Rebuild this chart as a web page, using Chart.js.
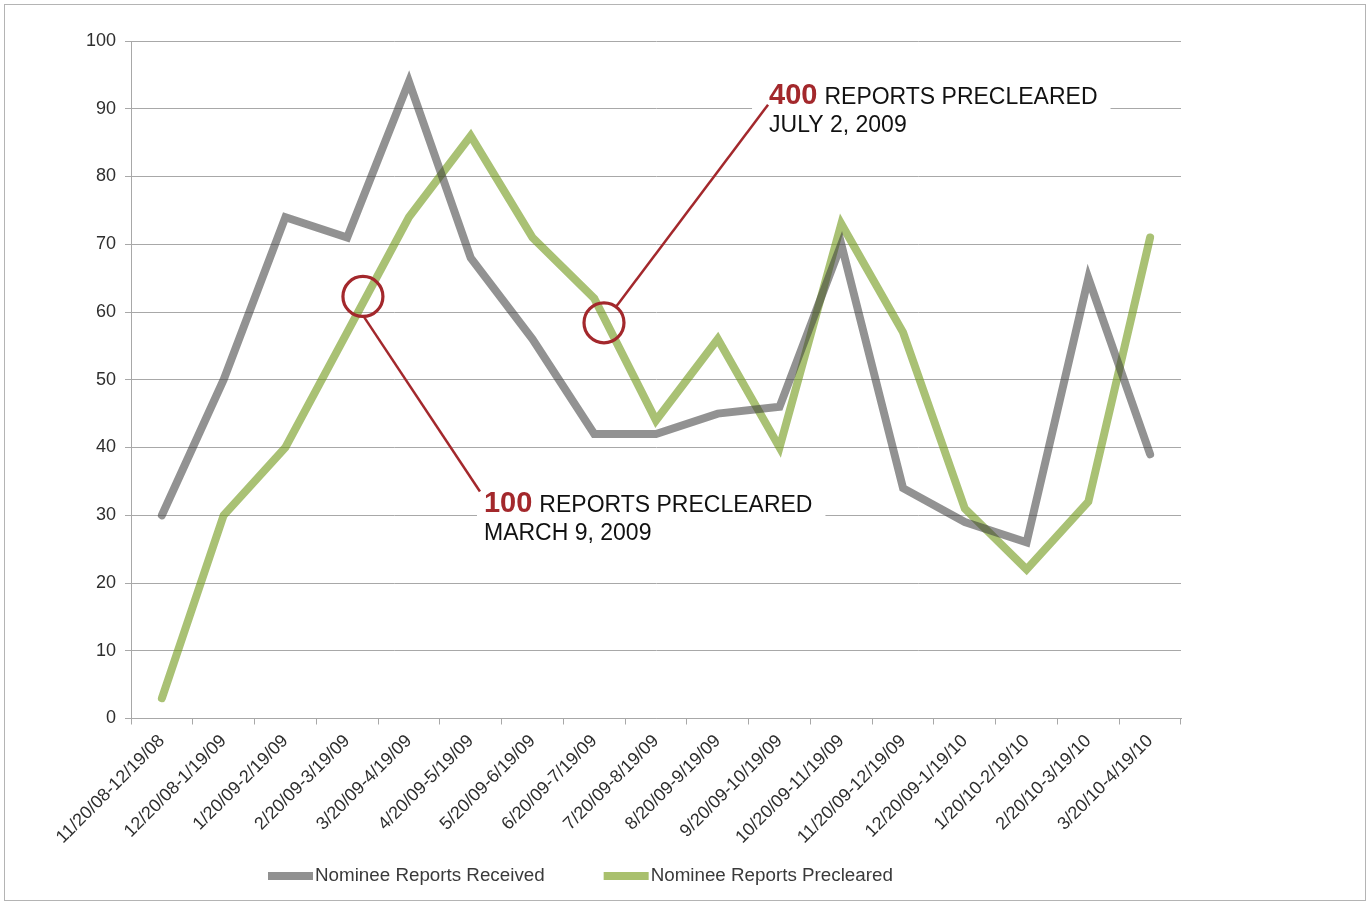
<!DOCTYPE html>
<html>
<head>
<meta charset="utf-8">
<script src="https://cdn.jsdelivr.net/npm/chart.js@4.4.0/dist/chart.umd.min.js"></script>
<style>
  html, body { margin: 0; padding: 0; background: #fff; }
  #wrap { position: relative; width: 1369px; height: 903px; overflow: hidden; }
  #frame { position: absolute; left: 4px; top: 4px; width: 1362px; height: 897px; border: 1px solid #b4b4b4; box-sizing: border-box; pointer-events: none; }
  canvas { position: absolute; left: 0; top: 0; }
</style>
</head>
<body>
<div id="wrap">
  <canvas id="lineChart" width="1369" height="903"></canvas>
  <div id="frame"></div>
</div>
<script>
const periods = [
  "11/20/08-12/19/08", "12/20/08-1/19/09", "1/20/09-2/19/09", "2/20/09-3/19/09",
  "3/20/09-4/19/09", "4/20/09-5/19/09", "5/20/09-6/19/09", "6/20/09-7/19/09",
  "7/20/09-8/19/09", "8/20/09-9/19/09", "9/20/09-10/19/09", "10/20/09-11/19/09",
  "11/20/09-12/19/09", "12/20/09-1/19/10", "1/20/10-2/19/10", "2/20/10-3/19/10",
  "3/20/10-4/19/10"
];
const seriesNames = ["Nominee Reports Received", "Nominee Reports Precleared"];
const received   = [30, 50, 74, 71, 94, 68, 56, 42, 42, 45, 46, 70, 34, 29, 26, 65, 39];
const precleared = [3, 30, 40, 57, 74, 86, 71, 62, 44, 56, 40, 73, 57, 31, 22, 32, 71];

// callout texts
const calloutCounts = ["100", "400"];
const calloutDates = ["MARCH 9, 2009", "JULY 2, 2009"];

const FONT = "'Liberation Sans', Arial, Helvetica, sans-serif";
const RED = "#a3282c";
const GRID = "#a8a8a8";
const lineColors = ["rgba(60,60,60,0.56)", "rgba(112,152,24,0.6)"];
const legendColors = ["#919191", "#a9c06d"];

// where each callout sits: circle in data coords, line end in data coords
const calloutPlaces = [
  { at: 3.255, value: 62.3, toAt: 5.15, toValue: 33.5, angle: 88, dx: 4, dy: 20, padL: 7 },
  { at: 7.158, value: 58.4, toAt: 9.814, toValue: 90.6, angle: -53, dx: 1, dy: -1, padL: 17 }
];

function calloutGeom(chart, i) {
  const xs = chart.scales.x, ys = chart.scales.y;
  const p = calloutPlaces[i];
  const cx = xs.getPixelForValue(p.at), cy = ys.getPixelForValue(p.value);
  const ex = xs.getPixelForValue(p.toAt), ey = ys.getPixelForValue(p.toValue);
  return { cx, cy, ex, ey, tx: ex + p.dx, ty: ey + p.dy, p };
}

const calloutPlugin = {
  id: "callouts",
  beforeDatasetsDraw(chart) {
    const ctx = chart.ctx;
    calloutCounts.forEach((count, i) => {
      const g = calloutGeom(chart, i);
      ctx.save();
      ctx.font = "bold 29px " + FONT;
      let w = ctx.measureText(count).width + 7;
      ctx.font = "23px " + FONT;
      w += ctx.measureText("REPORTS PRECLEARED").width;
      ctx.fillStyle = "#fff";
      ctx.fillRect(g.tx - g.p.padL, g.ty - 24, w + g.p.padL + 13, 58);
      ctx.restore();
    });
  },
  afterDatasetsDraw(chart) {
    const ctx = chart.ctx;
    calloutCounts.forEach((count, i) => {
      const g = calloutGeom(chart, i);
      const r = 20;
      const a = g.p.angle * Math.PI / 180;
      ctx.save();
      ctx.strokeStyle = RED;
      ctx.lineWidth = 2.5;
      ctx.beginPath();
      ctx.moveTo(g.cx + Math.cos(a) * r, g.cy + Math.sin(a) * r);
      ctx.lineTo(g.ex, g.ey);
      ctx.stroke();
      ctx.lineWidth = 3.2;
      ctx.beginPath();
      ctx.arc(g.cx, g.cy, r, 0, Math.PI * 2);
      ctx.stroke();

      ctx.textBaseline = "alphabetic";
      ctx.textAlign = "left";
      ctx.fillStyle = RED;
      ctx.font = "bold 29px " + FONT;
      ctx.fillText(count, g.tx, g.ty);
      const w = ctx.measureText(count).width;
      ctx.fillStyle = "#111";
      ctx.font = "23px " + FONT;
      ctx.fillText("REPORTS PRECLEARED", g.tx + w + 7, g.ty);
      ctx.fillText(calloutDates[i], g.tx, g.ty + 28);
      ctx.restore();
    });
  }
};

const legendPlugin = {
  id: "lineLegend",
  afterDraw(chart) {
    const ctx = chart.ctx;
    let x = 268;
    const y = 876;
    ctx.save();
    ctx.font = "18.8px " + FONT;
    ctx.textBaseline = "middle";
    ctx.textAlign = "left";
    chart.data.datasets.forEach((ds, i) => {
      ctx.fillStyle = legendColors[i];
      ctx.fillRect(x, y - 4, 45, 8);
      ctx.fillStyle = "#3a3a3a";
      ctx.fillText(ds.label, x + 47, y);
      x += 47 + ctx.measureText(ds.label).width + 59;
    });
    ctx.restore();
  }
};

const ctx = document.getElementById("lineChart").getContext("2d");
new Chart(ctx, {
  type: "line",
  data: {
    labels: periods,
    datasets: [
      { label: seriesNames[0], data: received, borderColor: lineColors[0] },
      { label: seriesNames[1], data: precleared, borderColor: lineColors[1] }
    ]
  },
  options: {
    responsive: false,
    animation: false,
    devicePixelRatio: 1,
    layout: { padding: { left: 0, right: 188, top: 41, bottom: 0 } },
    elements: {
      line: { borderWidth: 8, tension: 0, borderCapStyle: "round", borderJoinStyle: "miter", fill: false },
      point: { radius: 0, hoverRadius: 0 }
    },
    plugins: {
      legend: { display: false },
      tooltip: { enabled: false }
    },
    scales: {
      x: {
        offset: true,
        afterFit(scale) { scale.height = 184.5; },
        grid: { drawOnChartArea: false, offset: true, tickLength: 6, color: GRID },
        border: { color: GRID },
        ticks: {
          autoSkip: false, maxRotation: 45, minRotation: 45, padding: 6,
          color: "#2e2e2e", font: { family: FONT, size: 18 }
        }
      },
      y: {
        min: 0, max: 100,
        afterFit(scale) { scale.width = 131; },
        grid: { color: GRID, tickLength: 6 },
        border: { color: GRID },
        ticks: { stepSize: 10, padding: 9, color: "#2e2e2e", font: { family: FONT, size: 18 } }
      }
    }
  },
  plugins: [calloutPlugin, legendPlugin]
});
</script>
</body>
</html>
